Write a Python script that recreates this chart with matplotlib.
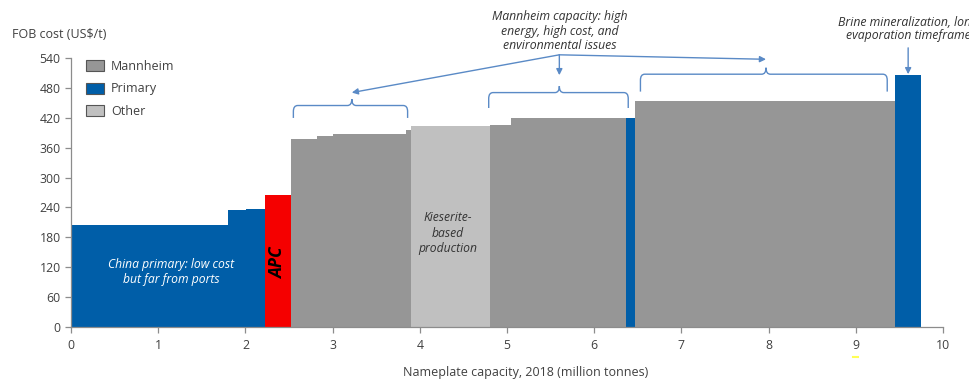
import matplotlib
import numpy as np
from matplotlib import pyplot as plt
from matplotlib.patches import Patch, PathPatch
from matplotlib.path import Path

matplotlib.rcParams.update({'font.family': ['Open Sans', 'DejaVu Sans'], 'font.size': 9})

## Cost curve data: capacity per producer block (Mt) and FOB cost (US$/t)
capacity = [1.80, 0.21, 0.21, 0.30, 0.30, 0.19, 0.83, 0.06, 0.90, 0.24, 1.33, 0.10, 2.98, 0.30]
cost = [205, 234, 236, 265, 377, 384, 387, 396, 404, 406, 419, 420, 454, 506]
group = ["Primary", "Primary", "Primary", "APC", "Mannheim", "Mannheim", "Mannheim", "Mannheim",
         "Other", "Mannheim", "Mannheim", "Primary", "Mannheim", "Primary"]

yticks = [0, 60, 120, 180, 240, 300, 360, 420, 480, 540]
xticks = list(range(11))

colors = {"Mannheim": "#969696", "Primary": "#005EA8", "Other": "#C0C0C0", "APC": "#F50000"}
ann_c = "#5A8AC6"
txt_c = "#404040"

left = np.concatenate([[0], np.cumsum(capacity)[:-1]])

fig = plt.figure(figsize=(9.7, 3.81), dpi=100)
ax = fig.add_axes([0.0732, 0.1425, 0.8990, 0.7045])

ax.bar(left, cost, width=capacity, align='edge', color=[colors[g] for g in group],
       edgecolor='none', linewidth=0)

ax.set(xlim=(0, 10), ylim=(0, 540), xticks=xticks, yticks=yticks)
for s in ['top', 'right']:
    ax.spines[s].set_visible(False)
for s in ['left', 'bottom']:
    ax.spines[s].set_color('#8c8c8c')
    ax.spines[s].set_linewidth(0.9)
ax.tick_params(direction='out', length=4, width=0.9, color='#8c8c8c', labelcolor=txt_c, labelsize=8.8)
ax.tick_params(axis='x', pad=5)

fig.text(12/970, 1 - 35/381, "FOB cost (US$/t)", ha='left', va='center', color=txt_c, fontsize=9)
ax.set_xlabel("Nameplate capacity, 2018 (million tonnes)", color=txt_c, fontsize=9)
ax.xaxis.set_label_coords(0.521, -0.146)

# legend
handles = [Patch(facecolor=colors[k], edgecolor='#555555', linewidth=0.8) for k in ["Mannheim", "Primary", "Other"]]
ax.legend(handles, ["Mannheim", "Primary", "Other"], loc='upper left', bbox_to_anchor=(86/970, 1 - 60/381),
          bbox_transform=fig.transFigure, frameon=False, borderpad=0, borderaxespad=0,
          handlelength=1.4, handleheight=1.0, handletextpad=0.6, labelspacing=0.75, fontsize=9,
          labelcolor=txt_c)

# labels inside the bars
ax.text(1.15, 110, "China primary: low cost\nbut far from ports", color='white', style='italic',
        ha='center', va='center', fontsize=8.7, linespacing=1.2)
ax.text(2.37, 128, "APC", color='black', style='italic', weight='bold', rotation=90,
        ha='center', va='center', fontsize=12.5)
ax.text(4.32, 188, "Kieserite-\nbased\nproduction", color='#333333', style='italic',
        ha='center', va='center', fontsize=8.7, linespacing=1.25)


def brace(x0, x1, xm, y_end, y_bar, y_tip, rx=0.05, ry=12):
    verts = [(x0, y_end), (x0, y_bar - ry), (x0, y_bar), (x0 + rx, y_bar),
             (xm - rx, y_bar), (xm, y_bar), (xm, y_tip),
             (xm, y_bar), (xm + rx, y_bar),
             (x1 - rx, y_bar), (x1, y_bar), (x1, y_bar - ry), (x1, y_end)]
    codes = [Path.MOVETO, Path.LINETO, Path.CURVE3, Path.CURVE3,
             Path.LINETO, Path.CURVE3, Path.CURVE3,
             Path.CURVE3, Path.CURVE3,
             Path.LINETO, Path.CURVE3, Path.CURVE3, Path.LINETO]
    ax.add_patch(PathPatch(Path(verts, codes), facecolor='none', edgecolor=ann_c, lw=1, clip_on=False))


brace(2.55, 3.86, 3.22, 420, 445, 458)
brace(4.79, 6.39, 5.60, 440, 471, 484)
brace(6.53, 9.36, 7.97, 473, 508, 521)

arrow = dict(arrowstyle='-|>', mutation_scale=9, lw=1, color=ann_c, shrinkA=0, shrinkB=0)
origin = (5.60, 547)
for tip in [(3.22, 471), (5.60, 506), (7.97, 538)]:
    ax.annotate("", xy=tip, xytext=origin, arrowprops=arrow, annotation_clip=False)
ax.annotate("", xy=(9.60, 508), xytext=(9.60, 561), arrowprops=arrow, annotation_clip=False)

fig.text(560/970, 1 - 31/381, "Mannheim capacity: high\nenergy, high cost, and\nenvironmental issues",
         ha='center', va='center', style='italic', color='#333333', fontsize=8.8, linespacing=1.12)
fig.text(908/970, 1 - 29/381, "Brine mineralization, long\nevaporation timeframe",
         ha='center', va='center', style='italic', color='#333333', fontsize=8.8, linespacing=1.05)

# stray marker under the 9 tick
ax.plot([8.97, 9.03], [-61, -61], color='#FFFF55', lw=1.5, clip_on=False)

fig.savefig("out.png", dpi=100)
